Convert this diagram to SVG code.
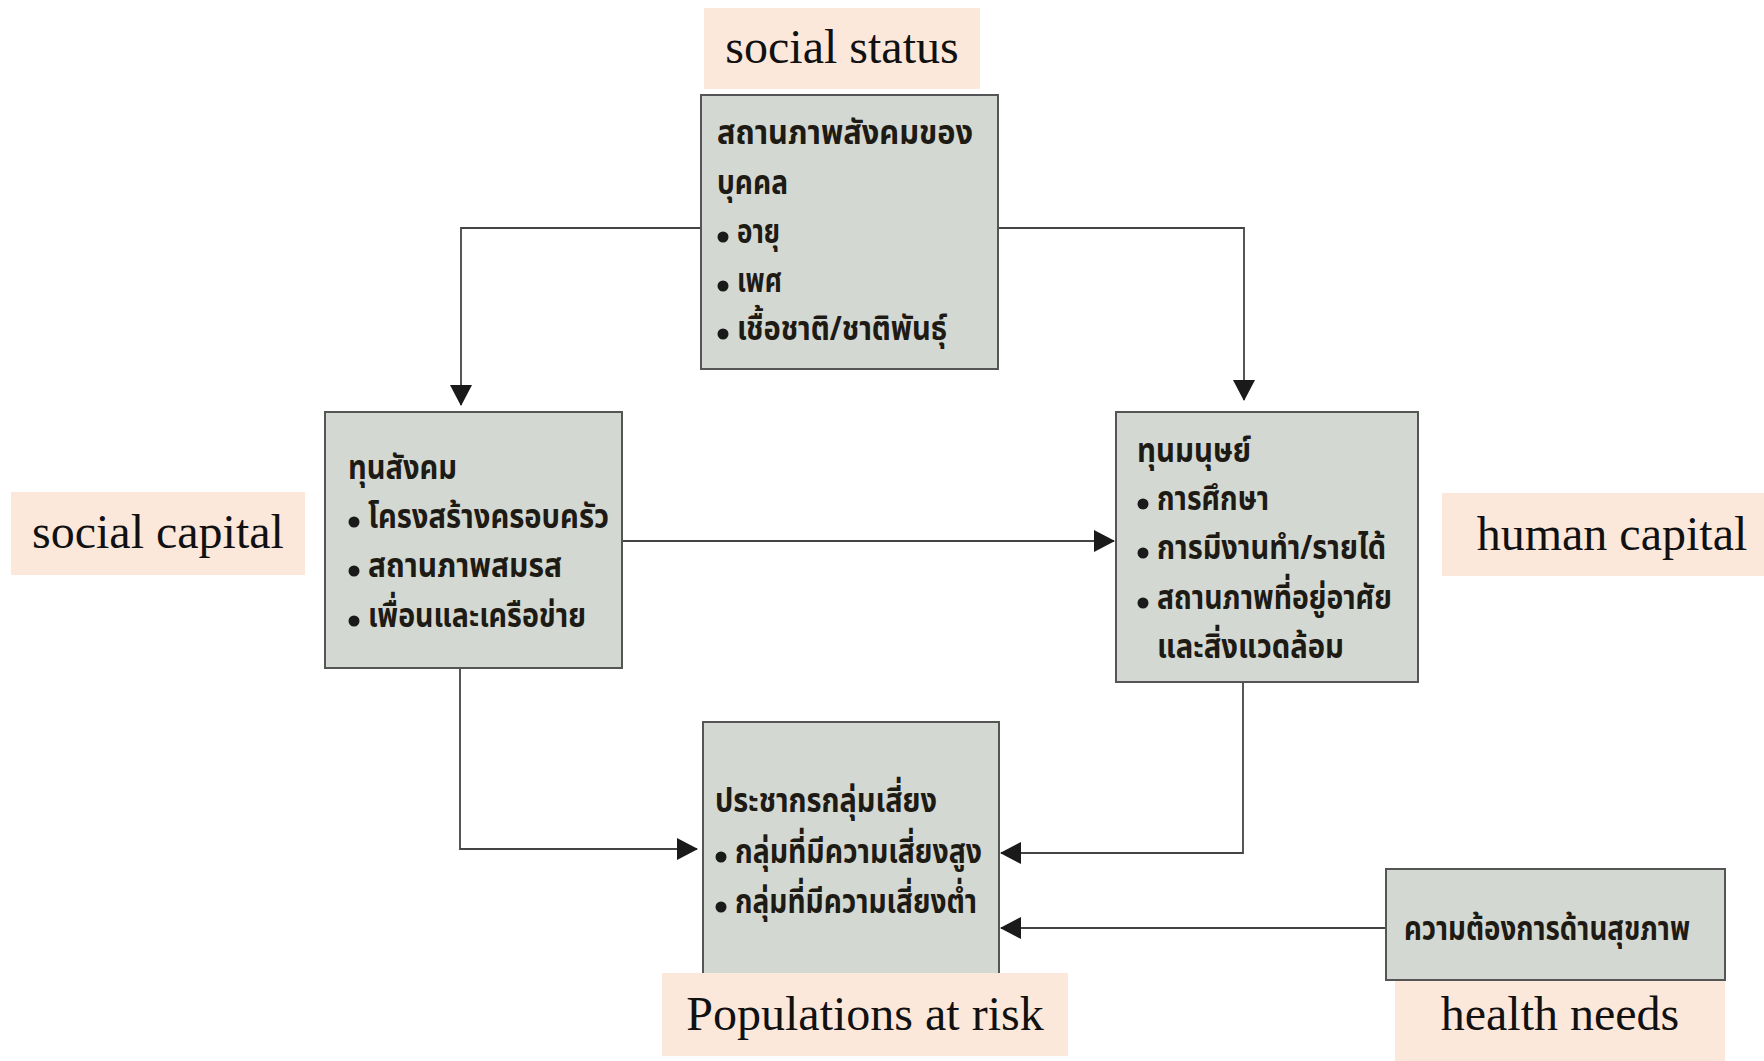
<svg xmlns="http://www.w3.org/2000/svg" width="1764" height="1061" viewBox="0 0 1764 1061">
<defs>
<style>
.box{fill:#d3d8d2;stroke:#555;stroke-width:2}
.lbl{fill:#fce8db}
.en{font-family:"Liberation Serif","Times New Roman",serif;font-size:48px;fill:#111;text-anchor:middle}
.th{font-family:"Noto Sans Thai","Noto Sans","DejaVu Sans",sans-serif;font-size:34px;font-weight:bold;fill:#1e1a14}
.con{fill:none;stroke:#444;stroke-width:1.8}
.dot{fill:#1a1a1a}
</style>
<marker id="arr" markerUnits="userSpaceOnUse" markerWidth="22" markerHeight="22" refX="20" refY="11" orient="auto">
<path d="M0,0 L21,11 L0,22 z" fill="#1a1a1a"/>
</marker>
</defs>
<rect width="1764" height="1061" fill="#fff"/>

<g id="connectors">
<path class="con" d="M701,228 H461 V405" marker-end="url(#arr)"/>
<path class="con" d="M998,228 H1244 V400" marker-end="url(#arr)"/>
<path class="con" d="M622,541 H1114" marker-end="url(#arr)"/>
<path class="con" d="M460,668 V849 H697" marker-end="url(#arr)"/>
<path class="con" d="M1243,682 V853 H1001" marker-end="url(#arr)"/>
<path class="con" d="M1386,928 H1001" marker-end="url(#arr)"/>
</g>

<g id="status">
<rect class="box" x="701" y="95" width="297" height="274"/>
<text class="th" x="717" y="144" textLength="256" lengthAdjust="spacingAndGlyphs">สถานภาพสังคมของ</text>
<text class="th" x="717" y="194" textLength="71" lengthAdjust="spacingAndGlyphs">บุคคล</text>
<circle class="dot" cx="723" cy="237" r="5.5"/>
<text class="th" x="737" y="243" textLength="43" lengthAdjust="spacingAndGlyphs">อายุ</text>
<circle class="dot" cx="723" cy="286" r="5.5"/>
<text class="th" x="737" y="292" textLength="45" lengthAdjust="spacingAndGlyphs">เพศ</text>
<circle class="dot" cx="723" cy="334" r="5.5"/>
<text class="th" x="737" y="340" textLength="210" lengthAdjust="spacingAndGlyphs">เชื้อชาติ/ชาติพันธุ์</text>
</g>
<g id="status-label">
<rect class="lbl" x="704" y="8" width="276" height="81"/>
<text class="en" x="842" y="63">social status</text>
</g>

<g id="social">
<rect class="box" x="325" y="412" width="297" height="256"/>
<text class="th" x="348" y="479" textLength="109" lengthAdjust="spacingAndGlyphs">ทุนสังคม</text>
<circle class="dot" cx="354" cy="522" r="5.5"/>
<text class="th" x="368" y="528" textLength="241" lengthAdjust="spacingAndGlyphs">โครงสร้างครอบครัว</text>
<circle class="dot" cx="354" cy="571" r="5.5"/>
<text class="th" x="368" y="577" textLength="194" lengthAdjust="spacingAndGlyphs">สถานภาพสมรส</text>
<circle class="dot" cx="354" cy="621" r="5.5"/>
<text class="th" x="368" y="627" textLength="218" lengthAdjust="spacingAndGlyphs">เพื่อนและเครือข่าย</text>
</g>
<g id="social-label">
<rect class="lbl" x="11" y="492" width="294" height="83"/>
<text class="en" x="158" y="548">social capital</text>
</g>

<g id="human">
<rect class="box" x="1116" y="412" width="302" height="270"/>
<text class="th" x="1137" y="462" textLength="114" lengthAdjust="spacingAndGlyphs">ทุนมนุษย์</text>
<circle class="dot" cx="1143" cy="504" r="5.5"/>
<text class="th" x="1157" y="510" textLength="112" lengthAdjust="spacingAndGlyphs">การศึกษา</text>
<circle class="dot" cx="1143" cy="553" r="5.5"/>
<text class="th" x="1157" y="559" textLength="229" lengthAdjust="spacingAndGlyphs">การมีงานทำ/รายได้</text>
<circle class="dot" cx="1143" cy="603" r="5.5"/>
<text class="th" x="1157" y="609" textLength="235" lengthAdjust="spacingAndGlyphs">สถานภาพที่อยู่อาศัย</text>
<text class="th" x="1157" y="658" textLength="187" lengthAdjust="spacingAndGlyphs">และสิ่งแวดล้อม</text>
</g>
<g id="human-label">
<rect class="lbl" x="1442" y="493" width="322" height="83"/>
<text class="en" x="1612" y="550">human capital</text>
</g>

<g id="risk">
<rect class="box" x="703" y="722" width="296" height="260"/>
<text class="th" x="715" y="812" textLength="222" lengthAdjust="spacingAndGlyphs">ประชากรกลุ่มเสี่ยง</text>
<circle class="dot" cx="721" cy="857" r="5.5"/>
<text class="th" x="735" y="863" textLength="247" lengthAdjust="spacingAndGlyphs">กลุ่มที่มีความเสี่ยงสูง</text>
<circle class="dot" cx="721" cy="907" r="5.5"/>
<text class="th" x="735" y="913" textLength="242" lengthAdjust="spacingAndGlyphs">กลุ่มที่มีความเสี่ยงต่ำ</text>
</g>
<g id="risk-label">
<rect class="lbl" x="662" y="973" width="406" height="83"/>
<text class="en" x="865" y="1030">Populations at risk</text>
</g>

<g id="health">
<rect class="box" x="1386" y="869" width="339" height="111"/>
<text class="th" x="1404" y="940" textLength="286" lengthAdjust="spacingAndGlyphs">ความต้องการด้านสุขภาพ</text>
</g>
<g id="health-label">
<rect class="lbl" x="1395" y="981" width="330" height="80"/>
<text class="en" x="1560" y="1030">health needs</text>
</g>
</svg>
